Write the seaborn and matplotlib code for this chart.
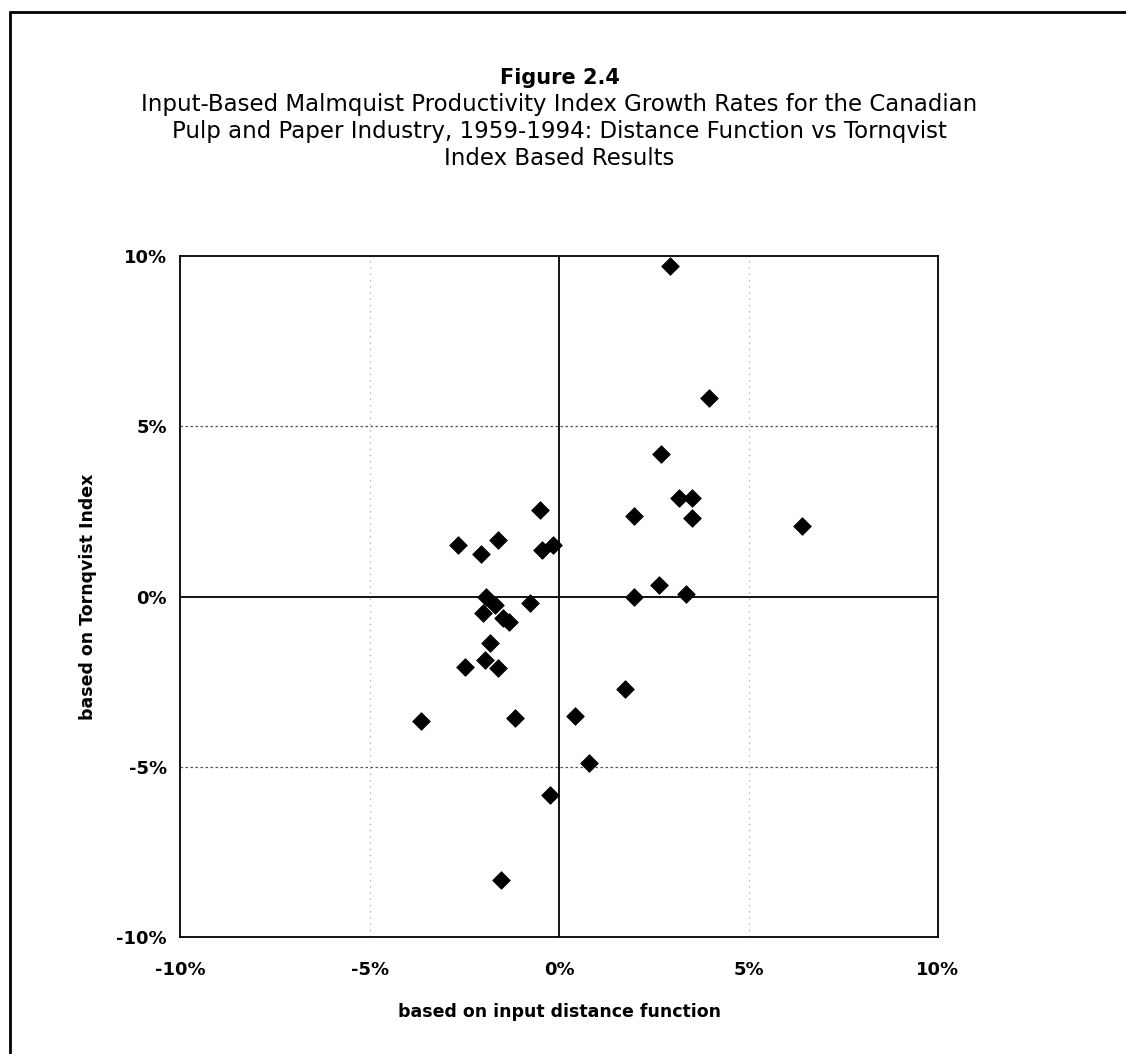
import matplotlib
matplotlib.use("Agg")
import matplotlib.pyplot as plt
import seaborn as sns
import pandas as pd
from matplotlib.ticker import FuncFormatter

# Data (growth rates, %)
distance_fn = [2.94, 3.96, 2.70, 3.17, 3.52, 1.98, 3.50, 6.40, -0.49, -2.66,
               -1.61, -2.07, -0.44, -0.17, 2.64, 1.98, 3.34, -1.94, -1.70, -0.77,
               -2.01, -1.48, -1.32, -1.81, -1.95, -2.49, -1.62, 1.75, -3.65, -1.16,
               0.42, 0.80, -0.24, -1.54]
tornqvist = [9.72, 5.82, 4.18, 2.90, 2.90, 2.37, 2.31, 2.07, 2.54, 1.50,
             1.67, 1.24, 1.38, 1.51, 0.33, -0.02, 0.09, -0.01, -0.24, -0.20,
             -0.47, -0.63, -0.76, -1.36, -1.87, -2.07, -2.10, -2.71, -3.65, -3.58,
             -3.52, -4.88, -5.82, -8.33]
ticks = [-10, -5, 0, 5, 10]

df = pd.DataFrame({"x": distance_fn, "y": tornqvist})

sns.set_theme(style="white")
plt.rcParams['font.family'] = ['DejaVu Sans']
plt.rcParams['text.color'] = 'black'
plt.rcParams['axes.labelcolor'] = 'black'
plt.rcParams['xtick.color'] = 'black'
plt.rcParams['ytick.color'] = 'black'

fig = plt.figure(figsize=(11.26, 10.54), dpi=100)
ax = fig.add_axes([0.160, 0.111, 0.673, 0.646])

# outer border (left and top)
fig.add_artist(plt.Line2D([0.009, 0.009], [0.0, 0.989], transform=fig.transFigure,
                          color="black", lw=2.0))
fig.add_artist(plt.Line2D([0.009, 1.0], [0.989, 0.989], transform=fig.transFigure,
                          color="black", lw=2.0))

# grid at +-5
for v in (-5, 5):
    ax.axvline(v, color="#aaaaaa", lw=0.9, ls=(0, (1, 4)), zorder=0)
    ax.axhline(v, color="#555555", lw=0.9, ls=(0, (2, 2)), zorder=0)
ax.axvline(0, color="black", lw=1.3, zorder=1)
ax.axhline(0, color="black", lw=1.3, zorder=1)

sns.scatterplot(data=df, x="x", y="y", marker="D", s=80, color="black",
                edgecolor="black", linewidth=0.6, ax=ax, zorder=3)

ax.set_xlim(-10, 10)
ax.set_ylim(-10, 10)
ax.set_xticks(ticks)
ax.set_yticks(ticks)
ax.xaxis.set_major_formatter(FuncFormatter(lambda v, p: f"{int(v)}%"))
ax.yaxis.set_major_formatter(FuncFormatter(lambda v, p: f"{int(v)}%"))
ax.tick_params(axis="x", labelsize=13, length=0, pad=17)
ax.tick_params(axis="y", labelsize=13, length=0, pad=9.5)
for lab in ax.get_xticklabels() + ax.get_yticklabels():
    lab.set_fontweight("bold")
for sp in ax.spines.values():
    sp.set_color("black")
    sp.set_linewidth(1.3)

ax.set_xlabel("based on input distance function", fontsize=12.5, fontweight="bold")
ax.set_ylabel("based on Tornqvist Index", fontsize=12.5, fontweight="bold")
ax.xaxis.set_label_coords(0.5, -0.110)
ax.xaxis.label.set_va("center")
ax.yaxis.set_label_coords(-0.121, 0.5)
ax.yaxis.label.set_va("center")

fig.text(0.497, 0.926, "Figure 2.4", ha="center", va="center", fontsize=15, fontweight="bold")
fig.text(0.497, 0.9005, "Input-Based Malmquist Productivity Index Growth Rates for the Canadian",
         ha="center", va="center", fontsize=16.5)
fig.text(0.497, 0.875, "Pulp and Paper Industry, 1959-1994: Distance Function vs Tornqvist",
         ha="center", va="center", fontsize=16.5)
fig.text(0.497, 0.8495, "Index Based Results", ha="center", va="center", fontsize=16.5)

fig.savefig("out.png", dpi=100, facecolor="white")
